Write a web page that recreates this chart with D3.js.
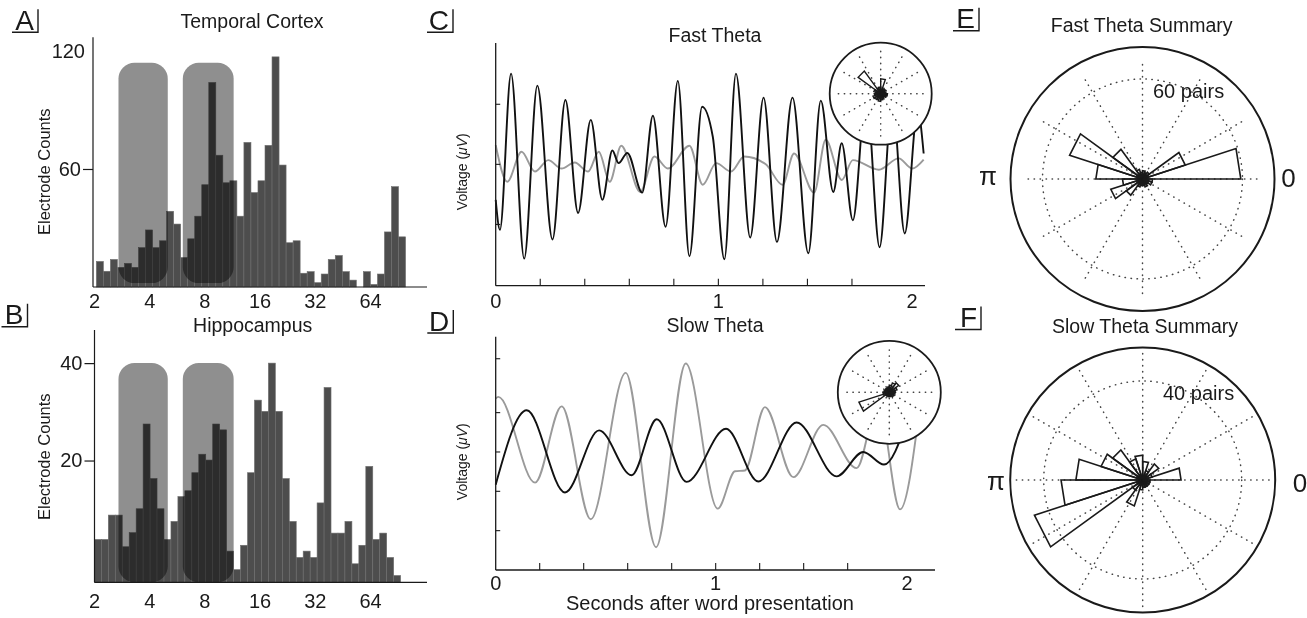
<!DOCTYPE html>
<html>
<head>
<meta charset="utf-8">
<title>Theta coupling figure</title>
<script src="https://d3js.org/d3.v7.min.js"></script>
<style>
  html, body { margin: 0; padding: 0; background: white; }
  svg text { font-family: "Liberation Sans", Arial, Helvetica, sans-serif; fill: #1a1a1a; }
</style>
</head>
<body>
<div id="chart"></div>
<script>
// ---------- data ----------
// A / B: electrode counts per log-spaced frequency bin
const temporalCounts = [13, 8, 14, 10, 12, 10, 20, 29, 20, 23.5, 38.5, 32, 15, 24.5, 36, 52, 104, 67, 53, 54,
  36, 73.5, 48, 54, 72, 117, 62, 22.5, 23.5, 7, 7.8, 2.2, 6.6, 14, 16, 7.8, 3.5, 0, 7.8, 1.3, 6.6, 28, 51, 25.5];
const hippoCounts = [3.8, 3.8, 8.8, 8.8, 2.3, 5.2, 10.1, 27.5, 16.3, 10.1, 3.8, 7.5, 12.6, 13.8, 17.5, 21.3, 20.1, 27.5, 26.3, 1.4,
  -2.4, 2.6, 17.5, 32.4, 30.1, 40, 30.1, 16.3, 7.5, 0.1, 1.4, 0.1, 11.3, 35, 5.1, 5.1, 7.5, -1.2, 2.6, 18.8, 3.8, 5.1, 0.1, -3.6];
const temporalBinRange = [2.06, 100];   // Hz, first and last bin edge
const hippoBinRange = [2.01, 94];
const freqTicks = [2, 4, 8, 16, 32, 64];
const slowBand = [2.72, 5.05];          // Hz, shaded slow theta band
const fastBand = [6.1, 11.55];          // Hz, shaded fast theta band

// C: fast theta example traces, [seconds, voltage]
const fastBlack = [[0, -0.59], [0.019, -1.09], [0.069, 1.51], [0.128, -1.57], [0.187, 1.31], [0.255, -1.25], [0.313, 1.07],
  [0.37, -0.81], [0.427, 0.74], [0.479, -0.59], [0.524, 0.23], [0.552, 0.02], [0.591, 0.19], [0.658, -0.47], [0.706, 0.81],
  [0.763, -1.04], [0.818, 1.39], [0.87, -1.53], [0.927, 0.96], [0.975, 0.46], [1.027, -1.58], [1.079, 1.51], [1.143, -1.22],
  [1.203, 1.11], [1.263, -1.29], [1.333, 1.11], [1.404, -1.48], [1.46, 1.06], [1.516, -0.46], [1.554, 0.35], [1.604, -0.93],
  [1.664, 1.18], [1.724, -1.38], [1.781, 1.07], [1.837, -1.15], [1.895, 0.9], [1.922, 0.18]];
const fastGray = [[0, 0.32], [0.052, -0.29], [0.116, 0.21], [0.176, -0.12], [0.236, 0.07], [0.296, -0.07], [0.355, 0.03],
  [0.415, -0.12], [0.463, 0.21], [0.512, -0.29], [0.564, 0.31], [0.649, -0.46], [0.713, 0.13], [0.773, -0.07], [0.87, 0.31],
  [0.93, -0.34], [0.99, 0.02], [1.057, -0.12], [1.116, 0.13], [1.213, 0.0], [1.288, -0.34], [1.34, 0.18], [1.43, -0.47],
  [1.482, 0.41], [1.554, -0.26], [1.604, 0.07], [1.721, -0.09], [1.81, 0.1], [1.87, -0.07], [1.922, 0.08]];

// D: slow theta example traces
const slowBlack = [[0, -0.83], [0.141, 1.06], [0.315, -1.03], [0.47, 0.55], [0.618, -0.59], [0.732, 0.83], [0.868, -0.76],
  [1.047, 0.59], [1.194, -0.75], [1.368, 0.75], [1.55, -0.62], [1.671, 0.0], [1.765, -0.32], [1.868, 0.76]];
const slowGray = [[0, 1.36], [0.012, 1.4], [0.179, -0.78], [0.3, 1.16], [0.432, -1.71], [0.591, 2.01], [0.729, -2.42],
  [0.864, 2.25], [1.009, -1.44], [1.088, -0.49], [1.133, -0.47], [1.224, 1.14], [1.353, -0.64], [1.489, 0.69],
  [1.641, -0.41], [1.739, 1.27], [1.838, -1.46], [1.929, 1.19]];

const timeTicks = [0.2, 0.4, 0.6, 0.8, 1.0, 1.2, 1.4, 1.6];
const timeLabels = ["0", "1", "2"];
const timeLabelAt = [0, 1, 1.87];
const fastVoltTicks = [-1, 0, 1];
const slowVoltTicks = [-2, -1, 0, 1, 2.37];

// phase histograms, 20 bins of 18 degrees starting at 0 rad, counter-clockwise
const insetFastCounts = [1.2, 1.0, 1.3, 1.1, 3.3, 1.5, 1.3, 6.2, 1.6, 1.2, 1.4, 1.8, 1.6, 1.5, 1.7, 1.4, 1.2, 1.0, 1.3, 1.5];
const insetSlowCounts = [1.3, 1.8, 2.6, 2.2, 1.6, 1.2, 1.0, 1.1, 1.0, 1.2, 1.4, 7.1, 1.0, 0.9, 1.0, 0.8, 1.0, 1.2, 1.1, 1.3];
const fastSummaryPairs = [59, 27, 5, 4, 5, 4, 6, 22, 46, 28, 12, 20, 12, 5, 4, 4, 5, 4, 6, 6];
const slowSummaryPairs = [15.5, 4, 8, 4, 7.5, 10, 9, 15, 17.7, 27, 33, 46, 5, 11, 4, 3, 3, 3, 3, 3];

// ---------- canvas ----------
const W = 1307, H = 618;
const svg = d3.select("#chart").append("svg").attr("width", W).attr("height", H);
svg.append("rect").attr("width", W).attr("height", H).attr("fill", "white");
const INK = "#1a1a1a";

function addText(x, y, str, size, anchor) {
  return svg.append("text").attr("x", x).attr("y", y)
    .attr("text-anchor", anchor || "middle").style("font-size", size + "px").text(str);
}

function panelLetter(letter, cx, cy) {
  addText(cx - 4, cy - 2.5, letter, 28, "end");
  svg.append("path").attr("d", `M${cx - 26},${cy} H${cx} V${cy - 23}`)
    .attr("fill", "none").attr("stroke", INK).attr("stroke-width", 1.4);
}

function vLabel(x, y, size, build) {
  const t = svg.append("text").attr("transform", `translate(${x},${y}) rotate(-90)`)
    .attr("text-anchor", "middle").style("font-size", size + "px");
  build(t);
}

// ---------- A / B histograms ----------
const xFreq = d3.scaleLog().base(2).domain([2, 64]).range([94, 370]);

function histogram(o) {
  const g = svg.append("g");
  const n = o.counts.length;
  const edges = d3.range(n + 1).map(i => o.range[0] * Math.pow(o.range[1] / o.range[0], i / n));
  const y = o.y;
  const floor = y.domain()[0];

  g.selectAll("rect.bar").data(o.counts).join("rect")
    .attr("class", "bar")
    .attr("x", (d, i) => xFreq(edges[i]))
    .attr("width", (d, i) => xFreq(edges[i + 1]) - xFreq(edges[i]))
    .attr("y", d => y(Math.max(d, floor)))
    .attr("height", d => y(floor) - y(Math.max(d, floor)))
    .attr("fill", "#4d4d4d").attr("stroke", "#6e6e6e").attr("stroke-width", 0.6);

  // shaded theta bands, multiplied over the bars
  [slowBand, fastBand].forEach(b => {
    g.append("rect")
      .attr("x", xFreq(b[0])).attr("width", xFreq(b[1]) - xFreq(b[0]))
      .attr("y", y(o.bandTop)).attr("height", y(o.bandBottom) - y(o.bandTop))
      .attr("rx", 16).attr("ry", 16)
      .attr("fill", "#8f8f8f").style("mix-blend-mode", "multiply");
  });

  // axes
  const xa = g.append("g").attr("transform", `translate(0,${y(floor)})`)
    .call(d3.axisBottom(xFreq).tickValues(freqTicks).tickFormat(d3.format("d")).tickSize(0).tickPadding(o.xPad));
  xa.select(".domain").remove();
  xa.selectAll("text").style("font-size", "20px").attr("fill", INK);

  const ya = g.append("g").attr("transform", `translate(${o.axisX},0)`)
    .call(d3.axisLeft(y).tickValues(o.yTicks).tickSize(10).tickPadding(2));
  ya.select(".domain").remove();
  ya.selectAll("text").style("font-size", "20px").attr("fill", INK);
  ya.selectAll("line").attr("stroke", INK).attr("stroke-width", 1.2);
  if (o.hideTop) {
    const top = ya.selectAll(".tick").filter(d => d === d3.max(o.yTicks));
    top.select("line").remove();
    top.select("text").attr("x", -8);
  }

  g.append("line").attr("x1", o.axisX).attr("x2", o.axisX).attr("y1", y.range()[1]).attr("y2", y(floor))
    .attr("stroke", INK).attr("stroke-width", 1.2);
  g.append("line").attr("x1", o.axisX).attr("x2", 427).attr("y1", y(floor)).attr("y2", y(floor))
    .attr("stroke", INK).attr("stroke-width", 1.2);
}

histogram({
  counts: temporalCounts, range: temporalBinRange,
  y: d3.scaleLinear().domain([0, 127]).range([287, 37.2]),
  yTicks: [60, 120], hideTop: true, axisX: 93, xPad: 7,
  bandTop: 114, bandBottom: 2
});
histogram({
  counts: hippoCounts, range: hippoBinRange,
  y: d3.scaleLinear().domain([-5, 46.8]).range([582.3, 330]),
  yTicks: [20, 40], hideTop: false, axisX: 94.5, xPad: 11.8,
  bandTop: 40, bandBottom: -5
});

addText(252, 28, "Temporal Cortex", 19.5);
addText(252.7, 331.5, "Hippocampus", 19.5);
vLabel(49.5, 171.7, 16.5, t => t.text("Electrode Counts"));
vLabel(49.5, 456.7, 16.5, t => t.text("Electrode Counts"));
panelLetter("A", 38, 32.3);
panelLetter("B", 27.5, 326.7);

// ---------- rose (phase histogram) ----------
function rose(g, counts, r, stroke) {
  const n = counts.length, w = 2 * Math.PI / n;
  g.selectAll("path.wedge").data(counts).join("path")
    .attr("class", "wedge")
    .attr("d", (d, i) => {
      const a0 = i * w, a1 = (i + 1) * w, rr = r(d);
      return `M0,0 L${rr * Math.cos(a0)},${-rr * Math.sin(a0)} L${rr * Math.cos(a1)},${-rr * Math.sin(a1)} Z`;
    })
    .attr("fill", "none").attr("stroke", INK).attr("stroke-width", stroke).attr("stroke-linejoin", "miter");
}

function polarFrame(cx, cy, R, spokeLen, rings, lw) {
  const g = svg.append("g").attr("transform", `translate(${cx},${cy})`);
  g.append("circle").attr("r", R).attr("fill", "white").attr("stroke", INK).attr("stroke-width", lw);
  const dots = sel => sel.attr("fill", "none").attr("stroke", "#444").attr("stroke-width", 1.5)
    .attr("stroke-linecap", "round").attr("stroke-dasharray", "0.4,5.6");
  d3.range(0, 360, 30).forEach(a => {
    const rad = a * Math.PI / 180;
    g.append("line").attr("x1", 0).attr("y1", 0)
      .attr("x2", spokeLen * Math.cos(rad)).attr("y2", -spokeLen * Math.sin(rad)).call(dots);
  });
  rings.forEach(rr => g.append("circle").attr("r", rr).call(dots));
  return g;
}

// ---------- C / D traces ----------
function tracePanel(o) {
  const t = d3.scaleLinear().domain(o.tDomain).range(o.xRange);
  const v = d3.scaleLinear().domain(o.vDomain).range(o.yRange);
  const line = d3.line().x(d => t(d[0])).y(d => v(d[1])).curve(d3.curveMonotoneX);
  const g = svg.append("g");
  g.append("path").datum(o.gray).attr("d", line).attr("fill", "none").attr("stroke", "#9a9a9a").attr("stroke-width", 1.9);
  g.append("path").datum(o.black).attr("d", line).attr("fill", "none").attr("stroke", "#111").attr("stroke-width", 1.9);

  const y0 = o.yRange[0], x0 = o.xRange[0];
  g.append("line").attr("x1", x0).attr("x2", x0).attr("y1", o.yRange[1]).attr("y2", y0).attr("stroke", INK).attr("stroke-width", 1.3);
  g.append("line").attr("x1", x0).attr("x2", o.xRange[1]).attr("y1", y0).attr("y2", y0).attr("stroke", INK).attr("stroke-width", 1.3);

  g.selectAll("line.xt").data(timeTicks).join("line").attr("class", "xt")
    .attr("x1", d => t(d)).attr("x2", d => t(d)).attr("y1", y0).attr("y2", y0 - 7)
    .attr("stroke", INK).attr("stroke-width", 1.1);
  g.selectAll("line.yt").data(o.vTicks).join("line").attr("class", "yt")
    .attr("x1", x0).attr("x2", x0 + 4.5).attr("y1", d => v(d)).attr("y2", d => v(d))
    .attr("stroke", INK).attr("stroke-width", 1.1);
  g.selectAll("text.xl").data(timeLabels).join("text").attr("class", "xl")
    .attr("x", (d, i) => t(timeLabelAt[i])).attr("y", o.labelY)
    .attr("text-anchor", "middle").style("font-size", "20px").text(d => d);

  const inset = polarFrame(o.insetC[0], o.insetC[1], o.insetR, 45, [], 1.8);
  rose(inset, o.insetCounts, d3.scaleLinear().domain([0, 10]).range([0, 45]), 1.4);
}

tracePanel({
  tDomain: [0, 1.928], xRange: [495.7, 925], vDomain: [-2.02, 2.02], yRange: [285.7, 43],
  vTicks: fastVoltTicks, black: fastBlack, gray: fastGray, labelY: 308,
  insetC: [880.7, 93.7], insetR: 51, insetCounts: insetFastCounts
});
tracePanel({
  tDomain: [0, 1.997], xRange: [495.7, 935], vDomain: [-3, 2.93], yRange: [570, 336.7],
  vTicks: slowVoltTicks, black: slowBlack, gray: slowGray, labelY: 590,
  insetC: [889.3, 392.3], insetR: 51.5, insetCounts: insetSlowCounts
});

addText(715, 41.7, "Fast Theta", 19.5);
addText(715, 331.7, "Slow Theta", 19.5);
addText(710, 610, "Seconds after word presentation", 20);
function voltage(t) {
  t.append("tspan").text("Voltage (");
  t.append("tspan").style("font-style", "italic").text("\u03BCV");
  t.append("tspan").text(")");
}
vLabel(467, 171.7, 14, voltage);
vLabel(467, 461.7, 14, voltage);
panelLetter("C", 453, 32.3);
panelLetter("D", 453.3, 333);

// ---------- E / F summaries ----------
const eFrame = polarFrame(1142.5, 179, 132, 115, [100], 2);
rose(eFrame, fastSummaryPairs, d3.scaleLinear().domain([0, 60]).range([0, 100]), 1.6);
const fFrame = polarFrame(1142.7, 480, 132.5, 128, [99], 2);
rose(fFrame, slowSummaryPairs, d3.scaleLinear().domain([0, 40]).range([0, 99]), 1.6);

addText(1141.7, 31.5, "Fast Theta Summary", 19.5);
addText(1145, 333, "Slow Theta Summary", 19.5);
addText(1153, 98, "60 pairs", 20, "start");
addText(1163, 400, "40 pairs", 20, "start");
addText(988, 185, "\u03C0", 26);
addText(1288.5, 187, "0", 26);
addText(996, 490, "\u03C0", 26);
addText(1300, 492, "0", 26);
panelLetter("E", 979, 30.7);
panelLetter("F", 981, 329.5);
</script>
</body>
</html>
